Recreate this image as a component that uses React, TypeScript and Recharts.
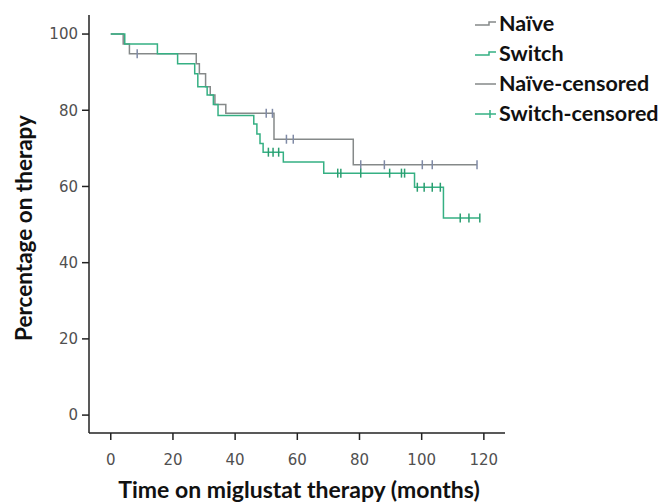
import React from 'react';
import { ComposedChart, Line, Scatter, XAxis, YAxis } from 'recharts';

const naiveTime = [0, 4, 6, 27.5, 28.5, 30.5, 32, 33.5, 37, 52.5, 78, 117.8];
const naiveSurv = [100, 97.4, 94.8, 92.2, 89.6, 86.2, 84, 81.5, 79.2, 72.4, 65.7, 65.7];

const switchTime = [0, 4.5, 15, 21.5, 27, 28, 31, 33, 34.5, 46, 47, 48, 49, 55.5, 68.5, 97.7, 107, 118.7];
const switchSurv = [100, 97.4, 94.8, 92.2, 89.6, 86.2, 84, 81.5, 78.6, 76.4, 73.8, 71.3, 69, 66.4, 63.5, 59.8, 51.7, 51.7];

const naiveCensTime = [8.5, 50, 52, 56.5, 58.7, 80.4, 88, 100.2, 103.4, 117.8];
const naiveCensSurv = [94.8, 79.2, 79.2, 72.4, 72.4, 65.7, 65.7, 65.7, 65.7, 65.7];

const switchCensTime = [50.7, 52.2, 54, 73, 74, 80.4, 89.7, 93.5, 94.5, 98.6, 100.8, 103.4, 106, 112.4, 115.2, 118.7];
const switchCensSurv = [69, 69, 69, 63.5, 63.5, 63.5, 63.5, 63.5, 63.5, 59.8, 59.8, 59.8, 59.8, 51.7, 51.7, 51.7];

const xTicks = [0, 20, 40, 60, 80, 100, 120];
const yTicks = [0, 20, 40, 60, 80, 100];

const legendLabels = ['Naïve', 'Switch', 'Naïve-censored', 'Switch-censored'];

const GREY = '#858989';
const GREEN = '#35b083';
const GREY_CENS = '#7f8aa6';
const GREEN_CENS = '#2a9e70';

const zip = (xs: number[], ys: number[]) => xs.map((x, i) => ({ x, y: ys[i] }));

const naiveData = zip(naiveTime, naiveSurv);
const switchData = zip(switchTime, switchSurv);
const naiveCens = zip(naiveCensTime, naiveCensSurv);
const switchCens = zip(switchCensTime, switchCensSurv);

const censorShape = (color: string) => (props: any) => {
  const { cx, cy } = props;
  return <line x1={cx} x2={cx} y1={cy - 4.5} y2={cy + 4.5} stroke={color} strokeWidth={1.5} />;
};

const LegendBox = () => {
  const colors = [GREY, GREEN, GREY, GREEN];
  return (
    <div
      style={{
        position: 'absolute',
        left: 467,
        top: 0,
        fontFamily: 'Lato, sans-serif',
        fontWeight: 700,
        fontSize: 21.5,
        color: '#111',
        whiteSpace: 'nowrap',
      }}
    >
      {legendLabels.map((lab, i) => (
        <div key={lab} style={{ height: 30, display: 'flex', alignItems: 'center' }}>
          <svg width={23} height={20} style={{ marginRight: 1 }}>
            {i < 2 ? (
              <path d="M0 12 H14 V9 H21" fill="none" stroke={colors[i]} strokeWidth={1.5} />
            ) : (
              <g>
                <line x1={0} x2={21} y1={11} y2={11} stroke={colors[i]} strokeWidth={1.5} />
                {i === 3 && <line x1={15} x2={15} y1={7} y2={15} stroke={colors[i]} strokeWidth={1.5} />}
              </g>
            )}
          </svg>
          <span>{lab}</span>
        </div>
      ))}
    </div>
  );
};

const YLabel = (props: any) => {
  const vb = props.viewBox || {};
  const cy = (vb.y ?? 7) + (vb.height ?? 418) / 2 + 4;
  return (
    <text
      x={15}
      y={cy}
      transform={`rotate(-90, 15, ${cy})`}
      textAnchor="middle"
      dominantBaseline="central"
      style={{ fontFamily: 'Lato, sans-serif', fontWeight: 700, fontSize: 22.5, fill: '#111' }}
    >
      Percentage on therapy
    </text>
  );
};

const XLabel = (props: any) => {
  const vb = props.viewBox || {};
  const cx = (vb.x ?? 81) + (vb.width ?? 416) / 2 + 2;
  return (
    <text
      x={cx}
      y={481}
      textAnchor="middle"
      dominantBaseline="central"
      style={{ fontFamily: 'Lato, sans-serif', fontWeight: 700, fontSize: 23, fill: '#111' }}
    >
      Time on miglustat therapy (months)
    </text>
  );
};

export default function App() {
  return (
    <div style={{ position: 'relative', width: 656, height: 496 }}>
      <ComposedChart width={656} height={496} margin={{ top: 7, right: 159, bottom: 11, left: 0 }}>
        <XAxis
          type="number"
          dataKey="x"
          domain={[-7, 126.8]}
          allowDataOverflow
          ticks={xTicks}
          tickSize={7}
          tickMargin={14}
          height={60}
          axisLine={{ stroke: '#222', strokeWidth: 1.5 }}
          tickLine={{ stroke: '#222', strokeWidth: 1.5 }}
          tick={{ fontFamily: 'DejaVu Sans, sans-serif', fontSize: 15, fill: '#505050' }}
          label={{ content: XLabel }}
        />
        <YAxis
          type="number"
          dataKey="y"
          domain={[-4.7, 105]}
          allowDataOverflow
          ticks={yTicks}
          tickSize={7}
          tickMargin={4}
          width={81}
          axisLine={{ stroke: '#222', strokeWidth: 1.5 }}
          tickLine={{ stroke: '#222', strokeWidth: 1.5 }}
          tick={{ fontFamily: 'DejaVu Sans, sans-serif', fontSize: 15, fill: '#505050' }}
          label={{ content: YLabel }}
        />
        <Line data={naiveData} dataKey="y" type="stepAfter" stroke={GREY} strokeWidth={1.5} dot={false} isAnimationActive={false} />
        <Line data={switchData} dataKey="y" type="stepAfter" stroke={GREEN} strokeWidth={1.5} dot={false} isAnimationActive={false} />
        <Scatter data={naiveCens} dataKey="y" fill={GREY_CENS} shape={censorShape(GREY_CENS)} isAnimationActive={false} />
        <Scatter data={switchCens} dataKey="y" fill={GREEN_CENS} shape={censorShape(GREEN_CENS)} isAnimationActive={false} />
      </ComposedChart>
      <LegendBox />
    </div>
  );
}
